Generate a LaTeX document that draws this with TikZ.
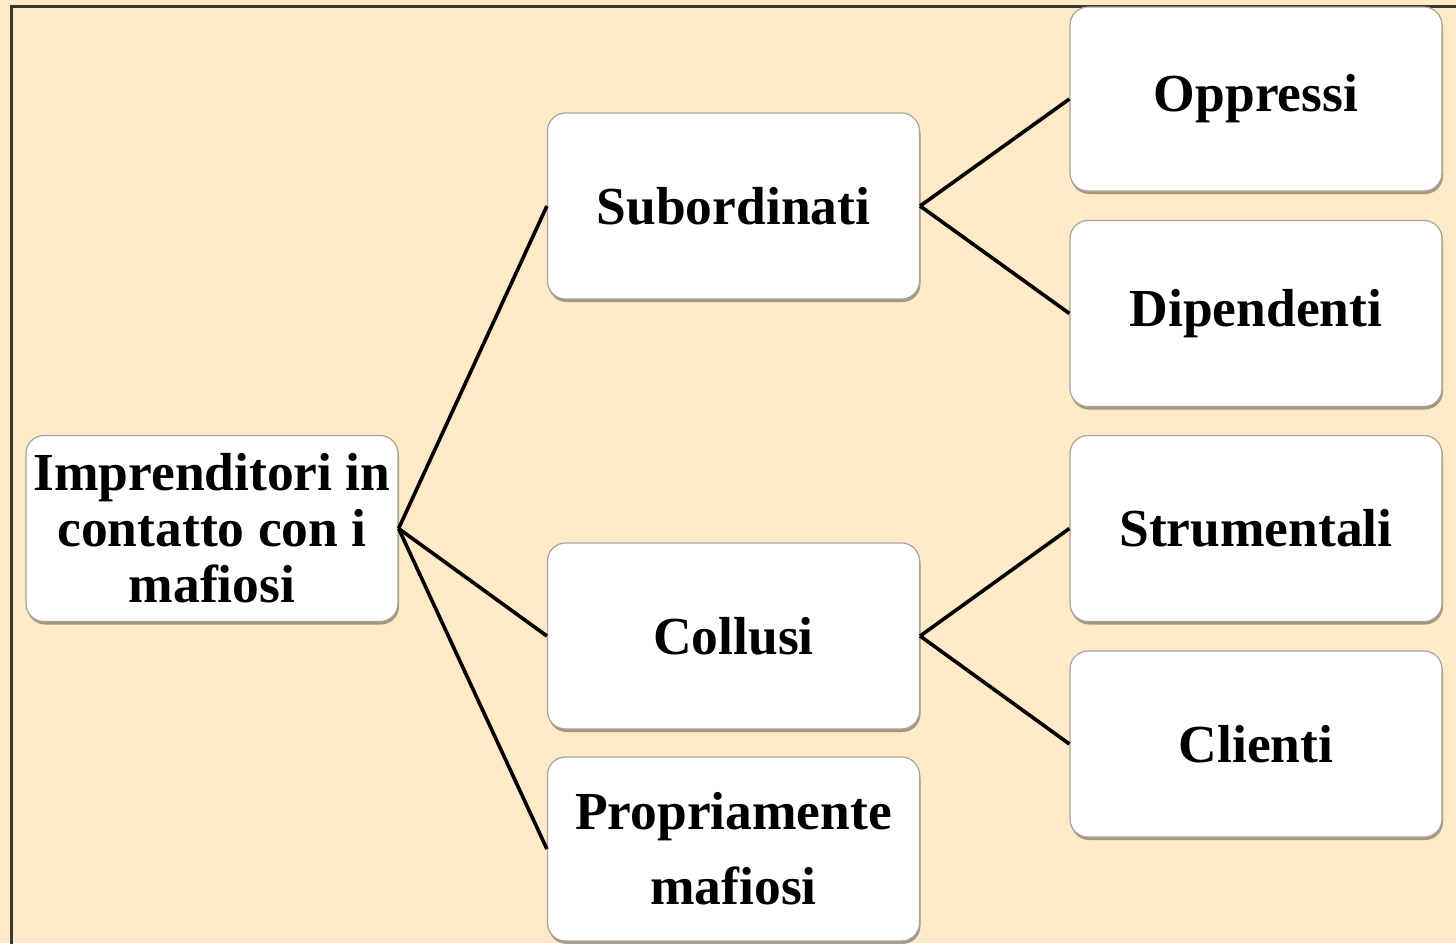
\documentclass[tikz,border=0pt]{standalone}
\usepackage{fontspec}
\setmainfont{Liberation Serif}
\usetikzlibrary{shadows}
\definecolor{bgpeach}{HTML}{FEEAC6}
\definecolor{framec}{HTML}{3A3630}
\definecolor{boxedge}{HTML}{A8A49C}
\tikzset{
  box/.style={rectangle, rounded corners=18pt, fill=white, draw=boxedge, line width=1.2pt,
    minimum width=372pt, minimum height=186pt, align=center, inner sep=4pt,
    font=\fontsize{53.5}{56}\selectfont\bfseries,
    drop shadow={shadow xshift=1pt, shadow yshift=-3pt, fill=black, opacity=.35}},
  link/.style={line width=3.6pt, black},
}
\begin{document}
\begin{tikzpicture}[x=1pt,y=-1pt]
\fill[bgpeach] (0,0) rectangle (1456,943);
\useasboundingbox (0,0) rectangle (1456,943);
\draw[framec, line width=3pt] (11,945) -- (11,6) -- (1458,6);

\node[box] (root) at (212,528.5) {Imprenditori in\\contatto con i\\mafiosi};
\node[box] (sub) at (733.5,206) {Subordinati};
\node[box] (col) at (733.5,636) {Collusi};
\node[box, minimum height=184pt, font=\fontsize{53.5}{75}\selectfont\bfseries] (prop) at (733.5,849) {Propriamente\\mafiosi};
\node[box, minimum height=184pt] (opp) at (1256,99) {Oppressi};
\node[box] (dip) at (1256,313.5) {Dipendenti};
\node[box] (str) at (1256,528.5) {Strumentali};
\node[box] (cli) at (1256,744) {Clienti};

\draw[link] (root.east) -- (sub.west);
\draw[link] (root.east) -- (col.west);
\draw[link] (root.east) -- (prop.west);
\draw[link] (sub.east) -- (opp.west);
\draw[link] (sub.east) -- (dip.west);
\draw[link] (col.east) -- (str.west);
\draw[link] (col.east) -- (cli.west);
\end{tikzpicture}
\end{document}
